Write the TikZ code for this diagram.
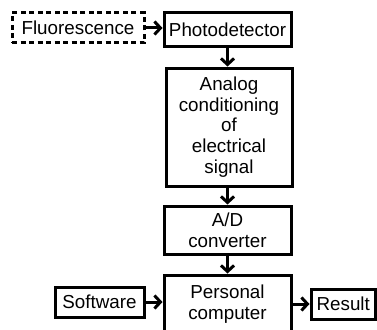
\documentclass[tikz,border=0pt]{standalone}
\usepackage{fontspec}
\setmainfont{Liberation Sans}
\usetikzlibrary{arrows.meta}
\begin{document}
\begin{tikzpicture}[x=1pt, y=-1pt,
        every node/.style={font=\fontsize{18.8}{20.6}\selectfont, align=center, inner sep=0pt},
        blk/.style={draw, line width=3pt, rectangle},
        flow/.style={-{Straight Barb[length=6pt, width=13pt]}, line width=3pt}]
        % Picture frame (the PC box runs past the lower edge)
        \clip (0,0) rectangle (377,329);
        % Blocks
        \node[blk, dash pattern=on 5pt off 3.5pt, minimum width=132pt, minimum height=30pt] (fluor) at (78,28) {Fluorescence};
        \node[blk, minimum width=127pt, minimum height=34pt] (photo) at (227.5,30) {Photodetector};
        \node[blk, minimum width=126pt, minimum height=118pt] (analog) at (229,127) {Analog\\conditioning\\of\\electrical\\signal};
        \node[blk, minimum width=127pt, minimum height=48pt] (adc) at (227.5,230) {A/D\\converter};
        \node[blk, minimum width=127pt, minimum height=58pt] (pc) at (227.5,304) {Personal\\computer};
        \node[blk, minimum width=89pt, minimum height=30pt] (soft) at (99.5,302) {Software};
        \node[blk, minimum width=64.5pt, minimum height=30pt] (result) at (343.25,304) {Result};
        % Arrows
        \draw[flow] (fluor.east) -- (fluor.east -| photo.west);
        \draw[flow] (photo.south) -- (photo.south |- analog.north);
        \draw[flow] (analog.south -| adc.north) -- (adc.north);
        \draw[flow] (adc.south) -- (pc.north);
        \draw[flow] (soft.east) -- (soft.east -| pc.west);
        \draw[flow] (pc.east |- result.west) -- (result.west);
\end{tikzpicture}
\end{document}
